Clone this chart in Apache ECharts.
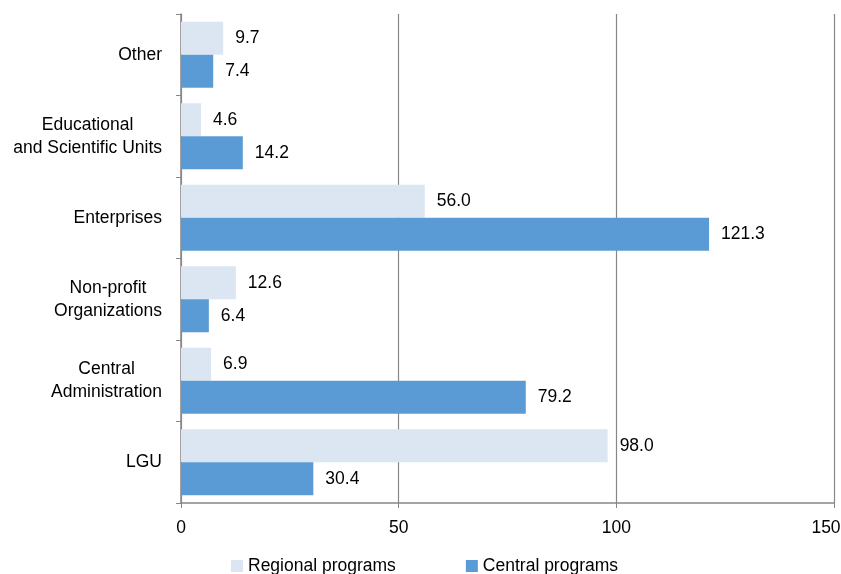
<!DOCTYPE html>
<html><head><meta charset="utf-8">
<script src="https://cdn.jsdelivr.net/npm/echarts@6/dist/echarts.min.js"></script>
<style>html,body{margin:0;padding:0;background:#fff}#c{width:841px;height:574px}</style>
</head><body><div id="c"></div>
<script>
const categories = ['Other', 'Educational\nand Scientific Units', 'Enterprises', 'Non-profit\nOrganizations', 'Central\nAdministration', 'LGU'];
const regional = [9.7, 4.6, 56.0, 12.6, 6.9, 98.0];
const central = [7.4, 14.2, 121.3, 6.4, 79.2, 30.4];
const xTicks = [0, 50, 100, 150];
const seriesNames = ['Regional programs', 'Central programs'];

const FONT = "'Liberation Sans Narrow', 'Liberation Sans', Arial, sans-serif";
const FS = 17.5;
const xMax = xTicks[xTicks.length - 1];
const chart = echarts.init(document.getElementById('c'));
const lbl = {show: true, position: 'right', distance: 12, color: '#000', fontFamily: FONT, fontSize: FS,
  formatter: p => p.value.toFixed(1)};
chart.setOption({
  animation: false,
  grid: {left: 181, right: 7, top: 14, bottom: 71, containLabel: false, outerBoundsMode: 'none'},
  legend: {
    data: seriesNames, left: 226, top: 552, itemWidth: 12, itemHeight: 12, itemGap: 70,
    icon: 'rect', textStyle: {fontFamily: FONT, fontSize: FS, color: '#000'}
  },
  xAxis: {
    type: 'value', min: xTicks[0], max: xMax, interval: 50,
    axisLine: {show: true, lineStyle: {color: '#878787', width: 1.5}},
    axisTick: {show: true, length: 5, lineStyle: {color: '#878787'}},
    axisLabel: {margin: 16, color: '#000', fontFamily: FONT, fontSize: FS,
      formatter: v => v === xMax ? '{m|' + v + '}' : String(v),
      rich: {m: {fontFamily: FONT, fontSize: FS, color: '#000', padding: [0, 16, 0, 0]}}},
    splitLine: {show: true, lineStyle: {color: '#878787', width: 1.2}}
  },
  yAxis: {
    type: 'category', data: categories, inverse: true,
    axisLine: {show: true, lineStyle: {color: '#878787', width: 1.5}},
    axisTick: {show: true, length: 5, lineStyle: {color: '#878787'}},
    axisLabel: {
      margin: 19, color: '#000', fontFamily: FONT, fontSize: FS,
      formatter: v => v.split('\n').map(s => '{a|' + s + '}').join('\n'),
      rich: {a: {align: 'center', fontFamily: FONT, fontSize: FS, color: '#000', lineHeight: 23}}
    }
  },
  series: [
    {name: seriesNames[0], type: 'bar', data: regional, barGap: '0%', barCategoryGap: '19%',
     itemStyle: {color: '#dce6f2'}, label: lbl},
    {name: seriesNames[1], type: 'bar', data: central, barGap: '0%', barCategoryGap: '19%',
     itemStyle: {color: '#5b9bd5'}, label: lbl}
  ]
});
</script></body></html>
